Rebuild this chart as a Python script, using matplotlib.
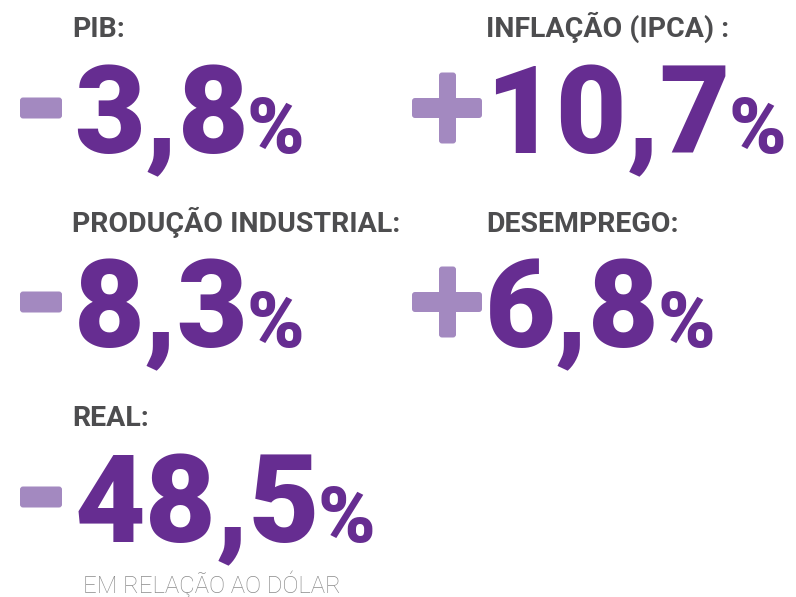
import matplotlib
matplotlib.use("Agg")
import matplotlib.pyplot as plt
from matplotlib.patches import FancyBboxPatch

# ---- data ----
labels = ["PIB:", "INFLAÇÃO (IPCA) :", "PRODUÇÃO INDUSTRIAL:", "DESEMPREGO:", "REAL:"]
values = [-3.8, 10.7, -8.3, 6.8, -48.5]
notes = ["", "", "", "", "EM RELAÇÃO AO DÓLAR"]

# ---- layout (pixels, top-left origin) ----
cols = [0, 1, 0, 1, 0]
rows = [0, 0, 1, 1, 2]
col_sign_x = [20, 412]
col_num_x = [74, 485]
col_label_x = [72, 486]
row_label_base = [37, 232, 426]
row_num_base = [153, 347, 542]

PURPLE = "#662D91"
LIGHT = "#A389C0"
GRAY = "#4D4D4F"
NOTE = "#8A8A8A"
FONT = ["Roboto", "DejaVu Sans"]

W, H = 796, 597
fig = plt.figure(figsize=(W / 100, H / 100), dpi=100)
ax = fig.add_axes([0, 0, 1, 1])
ax.set_xlim(0, W)
ax.set_ylim(H, 0)
ax.axis("off")

fig.canvas.draw()
renderer = fig.canvas.get_renderer()
inv = ax.transData.inverted()


def rbox(x, y, w, h):
    ax.add_patch(FancyBboxPatch((x, y), w, h, boxstyle="round,pad=0,rounding_size=3",
                                fc=LIGHT, ec="none"))


for lab, v, note, c, r in zip(labels, values, notes, cols, rows):
    lx = col_label_x[c]
    ax.text(lx, row_label_base[r], lab, fontsize=20.5, fontweight="bold", color=GRAY,
            family=FONT, ha="left", va="baseline")
    nb = row_num_base[r]
    sx = col_sign_x[c]
    cy = nb - 45  # center of sign
    if v < 0:
        rbox(sx, cy - 10.5, 42, 21)
    else:
        rbox(sx, cy - 10, 70, 20)
        rbox(sx + 27, cy - 35.5, 17, 71)
    s = f"{abs(v):.1f}".replace(".", ",")
    t = ax.text(col_num_x[c], nb, s, fontsize=88, fontweight="black", color=PURPLE,
                family=FONT, ha="left", va="baseline")
    bb = t.get_window_extent(renderer)
    xr = inv.transform((bb.x1, bb.y0))[0]
    ax.text(xr - 2, nb, "%", fontsize=56, fontweight="black", color=PURPLE,
            family=FONT, ha="left", va="baseline")
    if note:
        ax.text(83, nb + 51, note, fontsize=17.3, fontweight="light", color=NOTE,
                family=FONT, ha="left", va="baseline")

fig.savefig("out.png", dpi=100, facecolor="white")
